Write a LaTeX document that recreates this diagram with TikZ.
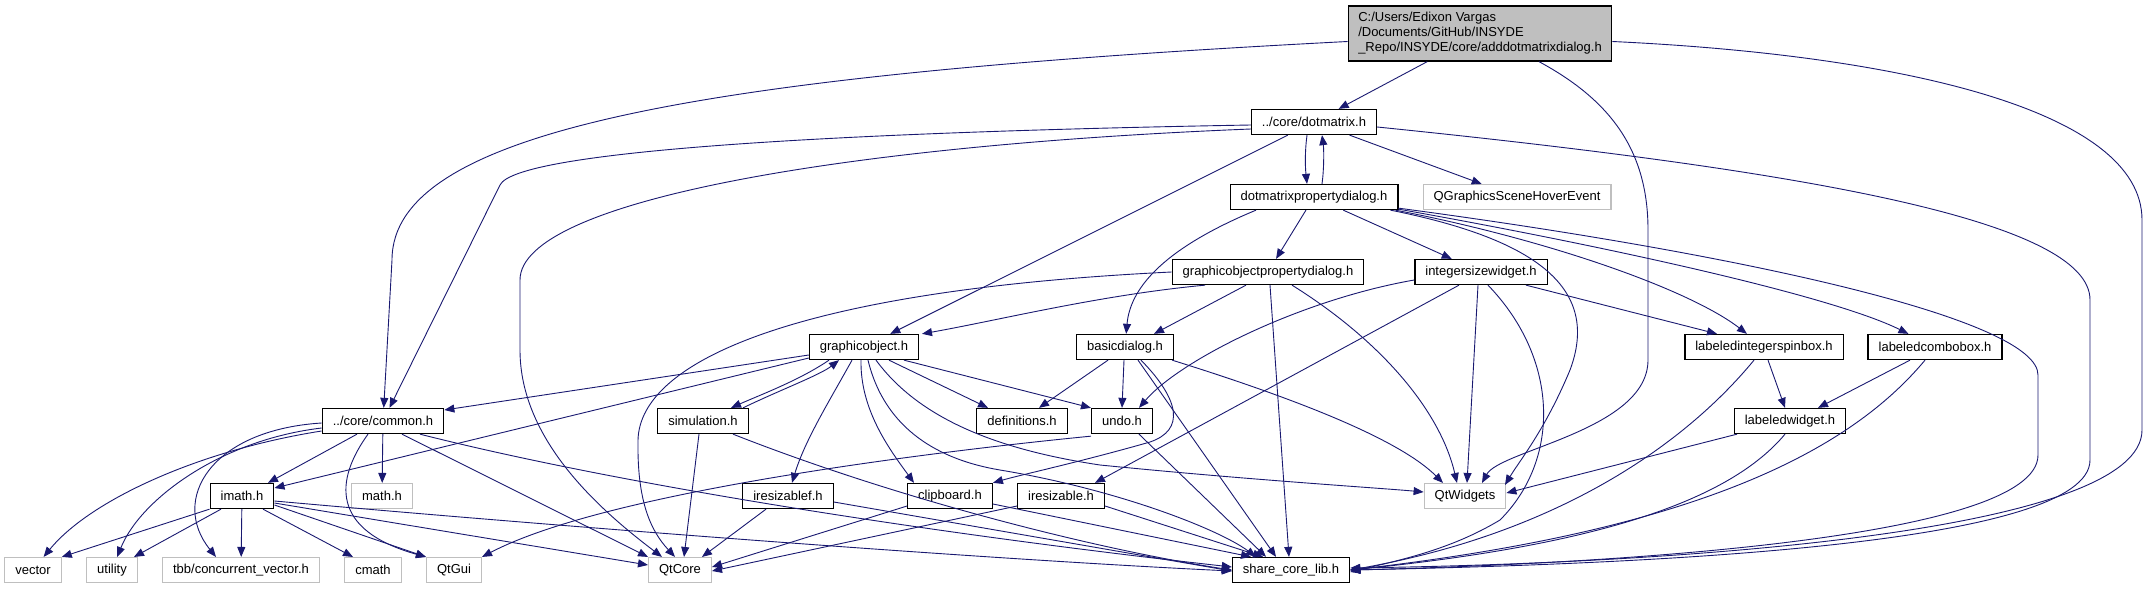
\documentclass[tikz,border=0pt]{standalone}
\usepackage{fontspec}
\setmainfont{Liberation Sans}
\usetikzlibrary{arrows.meta}
\definecolor{edgecol}{RGB}{25,25,112}
\definecolor{extgray}{RGB}{191,191,191}
\definecolor{rootfill}{RGB}{191,191,191}
\begin{document}
\begin{tikzpicture}[x=1pt,y=-1pt,
  every node/.style={font=\fontsize{13pt}{15pt}\selectfont, inner xsep=10.5pt, inner ysep=0pt, minimum height=25pt, anchor=center},
  docnode/.style={draw=black, line width=1.3pt, fill=white},
  extnode/.style={draw=extgray, line width=1.1pt, fill=white},
  rootnode/.style={draw=black, line width=1.3pt, fill=rootfill, align=left, minimum height=55pt, inner xsep=10pt},
  dep/.style={draw=edgecol, line width=0.9pt, -{Triangle[length=10pt,width=8pt]}}]
\useasboundingbox (0,0) rectangle (2147,589);
% nodes
\node[rootnode] (root) at (1480,33.5) {C:/Users/Edixon Vargas\\/Documents/GitHub/INSYDE\\\_Repo/INSYDE/core/adddotmatrixdialog.h};
\node[docnode] (dotmatrix) at (1314,122) {../core/dotmatrix.h};
\node[docnode] (dmpd) at (1314,197) {dotmatrixpropertydialog.h};
\node[extnode] (qgshe) at (1517,197) {QGraphicsSceneHoverEvent};
\node[docnode] (gopd) at (1268,272) {graphicobjectpropertydialog.h};
\node[docnode] (isw) at (1481,272) {integersizewidget.h};
\node[docnode] (go) at (864,347) {graphicobject.h};
\node[docnode] (bd) at (1125,347) {basicdialog.h};
\node[docnode] (lisb) at (1764,347) {labeledintegerspinbox.h};
\node[docnode] (lcb) at (1935,347) {labeledcombobox.h};
\node[docnode] (common) at (383,421) {../core/common.h};
\node[docnode] (sim) at (703,421) {simulation.h};
\node[docnode] (defs) at (1022,421) {definitions.h};
\node[docnode] (undo) at (1122,421) {undo.h};
\node[docnode] (lw) at (1790,421) {labeledwidget.h};
\node[docnode] (imath) at (242,496) {imath.h};
\node[extnode] (math) at (382,496) {math.h};
\node[docnode] (iresf) at (788,496) {iresizablef.h};
\node[docnode] (clip) at (950,496) {clipboard.h};
\node[docnode] (ires) at (1061,496) {iresizable.h};
\node[extnode] (qtw) at (1465,496) {QtWidgets};
\node[extnode] (vector) at (33,570) {vector};
\node[extnode] (utility) at (112,570) {utility};
\node[extnode] (tbb) at (241,570) {tbb/concurrent\_vector.h};
\node[extnode] (cmath) at (373,570) {cmath};
\node[extnode] (qtgui) at (454,570) {QtGui};
\node[extnode] (qtcore) at (680,570) {QtCore};
\node[docnode] (scl) at (1291,570) {share\_core\_lib.h};
% edges from root
\draw[dep] (root) -- (dotmatrix);
\draw[dep] ([yshift=-8pt]root.west) .. controls (700,75) and (392,130) .. (392,260) -- (common);
\draw[dep] ([xshift=59pt]root.south) .. controls (1610,100) and (1648,150) .. (1648,230) -- (1648,360) .. controls (1648,430) and (1500,450) .. ([xshift=17pt]qtw.north);
\draw[dep] ([yshift=-8pt]root.east) .. controls (1900,55) and (2142,110) .. (2142,220) -- (2142,430) .. controls (2142,530) and (1700,563) .. ([yshift=2pt]scl.east);
% dotmatrix
\draw[dep] ([xshift=-7pt]dotmatrix.south) .. controls (1305,150) and (1305,165) .. ([xshift=-7pt]dmpd.north);
\draw[dep] ([xshift=8pt]dmpd.north) .. controls (1324,170) and (1324,150) .. ([xshift=8pt]dotmatrix.south);
\draw[dep] (dotmatrix) -- (qgshe);
\draw[dep] (dotmatrix) -- (go);
\draw[dep] ([yshift=-3pt]dotmatrix.west) .. controls (850,132) and (517,150) .. (500,185) -- (common);
\draw[dep] ([yshift=-7pt]dotmatrix.west) .. controls (850,145) and (520,200) .. (520,280) -- (520,350) .. controls (520,440) and (600,510) .. ([xshift=-18pt]qtcore.north);
\draw[dep] ([yshift=-5pt]dotmatrix.east) .. controls (1800,170) and (2090,220) .. (2090,300) -- (2090,460) .. controls (2090,545) and (1650,564) .. (scl.east);
% dotmatrixpropertydialog
\draw[dep] ([xshift=-58pt]dmpd.south) .. controls (1160,250) and (1130,290) .. (bd);
\draw[dep] (dmpd) -- (gopd);
\draw[dep] (dmpd) -- (isw);
\draw[dep] ([xshift=-3pt]dmpd.south east) .. controls (1550,240) and (1690,290) .. (lisb);
\draw[dep] ([yshift=1pt]dmpd.south east) .. controls (1600,245) and (1830,295) .. (lcb);
\draw[dep] ([yshift=2pt]dmpd.south east) .. controls (1750,255) and (2038,320) .. (2038,375) -- (2038,455) .. controls (2038,540) and (1600,564) .. (scl.east);
\draw[dep] ([xshift=-8pt]dmpd.south east) .. controls (1540,240) and (1600,290) .. (1570,370) .. controls (1545,430) and (1520,460) .. ([xshift=40pt,yshift=-2pt]qtw.north);
% graphicobjectpropertydialog
\draw[dep] ([xshift=-63pt]gopd.south) .. controls (1100,295) and (1000,320) .. ([xshift=58pt]go.north);
\draw[dep] (gopd.west) .. controls (800,290) and (640,360) .. (638,440) .. controls (637,500) and (650,530) .. ([xshift=-5pt]qtcore.north);
\draw[dep] ([xshift=-22pt]gopd.south) -- ([xshift=29pt]bd.north);
\draw[dep] ([xshift=2pt]gopd.south) -- ([xshift=-2pt]scl.north);
\draw[dep] ([xshift=24pt]gopd.south) .. controls (1380,340) and (1440,410) .. ([xshift=-8pt]qtw.north);
% integersizewidget
\draw[dep] ([yshift=-8pt]isw.west) .. controls (1300,300) and (1180,360) .. ([xshift=17pt]undo.north);
\draw[dep] ([xshift=-22pt]isw.south) -- ([xshift=34pt]ires.north);
\draw[dep] ([xshift=-3pt]isw.south) -- ([xshift=2pt]qtw.north);
\draw[dep] ([xshift=7pt]isw.south) .. controls (1560,360) and (1560,460) .. (1500,520) .. controls (1450,550) and (1400,560) .. ([yshift=-2pt]scl.east);
\draw[dep] ([xshift=45pt]isw.south) -- ([xshift=-47pt]lisb.north);
% graphicobject
\draw[dep] ([yshift=-8pt]go.west) -- ([yshift=11pt]common.east);
\draw[dep] ([yshift=-11pt]go.west) -- ([yshift=8pt]imath.east);
\draw[dep] ([xshift=-35pt]go.south) .. controls (800,380) and (760,395) .. ([xshift=28pt]sim.north);
\draw[dep] ([xshift=40pt]sim.north) .. controls (780,390) and (820,375) .. ([xshift=-25pt]go.south);
\draw[dep] ([xshift=-12pt]go.south) .. controls (830,400) and (805,440) .. ([xshift=4pt]iresf.north);
\draw[dep] ([xshift=-3pt]go.south) .. controls (860,410) and (890,450) .. ([xshift=-36pt]clip.north);
\draw[dep] ([xshift=4pt]go.south) .. controls (885,430) and (940,460) .. (1000,470) .. controls (1120,490) and (1220,530) .. ([xshift=-35pt]scl.north);
\draw[dep] ([xshift=12pt]go.south) .. controls (920,420) and (1000,450) .. (1100,465) .. controls (1250,480) and (1380,488) .. ([yshift=4pt]qtw.west);
\draw[dep] ([xshift=25pt]go.south) -- ([xshift=-34pt]defs.north);
\draw[dep] ([xshift=40pt]go.south) -- (undo.north west);
% basicdialog
\draw[dep] ([xshift=-17pt]bd.south) -- ([xshift=17pt]defs.north);
\draw[dep] ([xshift=-1pt]bd.south) -- (undo.north);
\draw[dep] ([xshift=13pt]bd.south) -- ([xshift=-15pt]scl.north);
\draw[dep] ([xshift=16pt]bd.south) .. controls (1180,400) and (1185,430) .. (1150,442) .. controls (1080,462) and (1020,475) .. (clip.north east);
\draw[dep] ([xshift=-2pt]bd.south east) .. controls (1300,400) and (1400,440) .. ([xshift=-22pt]qtw.north);
% undo
\draw[dep] ([yshift=-2pt]undo.south west) .. controls (900,455) and (600,495) .. (qtgui.north east);
\draw[dep] ([xshift=17pt]undo.south) -- ([xshift=-25pt]scl.north);
% common
\draw[dep] ([xshift=-26pt]common.south) -- ([xshift=26pt]imath.north);
\draw[dep] (common) -- (math);
\draw[dep] ([yshift=-10pt]common.west) .. controls (200,450) and (90,500) .. (vector);
\draw[dep] ([yshift=-7pt]common.west) .. controls (220,440) and (140,500) .. (utility);
\draw[dep] ([yshift=-2pt]common.west) .. controls (210,430) and (170,500) .. ([xshift=-25pt]tbb.north);
\draw[dep] ([xshift=-15pt]common.south) .. controls (335,480) and (330,530) .. (qtgui.north west);
\draw[dep] ([xshift=19pt]common.south) -- (qtcore.north west);
\draw[dep] ([xshift=37pt]common.south) .. controls (600,480) and (900,530) .. ([yshift=3pt]scl.west);
% imath
\draw[dep] (imath.south west) -- (vector.north east);
\draw[dep] ([xshift=-21pt]imath.south) -- ([xshift=22pt]utility.north);
\draw[dep] (imath) -- (tbb);
\draw[dep] ([xshift=21pt]imath.south) -- ([xshift=-20pt]cmath.north);
\draw[dep] ([yshift=-9pt]imath.east) -- (qtgui.north west);
\draw[dep] ([yshift=-7pt]imath.east) -- ([yshift=5pt]qtcore.west);
\draw[dep] ([yshift=-5pt]imath.east) .. controls (600,530) and (1000,560) .. ([yshift=-1pt]scl.west);
% simulation
\draw[dep] ([xshift=-4pt]sim.south) -- ([xshift=4pt]qtcore.north);
\draw[dep] ([xshift=30pt]sim.south) .. controls (900,500) and (1100,550) .. (scl.west);
% iresizablef, clipboard, iresizable
\draw[dep] ([xshift=-22pt]iresf.south) -- ([xshift=22pt]qtcore.north);
\draw[dep] ([yshift=-6pt]iresf.east) -- ([yshift=-1pt]scl.west);
\draw[dep] ([yshift=-10pt]clip.west) -- ([yshift=3pt]qtcore.east);
\draw[dep] ([yshift=-8pt]clip.east) -- ([xshift=-40pt]scl.north);
\draw[dep] ([yshift=-10pt]ires.west) -- ([yshift=-1pt]qtcore.east);
\draw[dep] ([yshift=-10pt]ires.east) -- ([xshift=-28pt]scl.north);
% labeled*
\draw[dep] ([xshift=4pt]lisb.south) -- ([xshift=-5pt]lw.north);
\draw[dep] ([xshift=-10pt]lisb.south) .. controls (1680,450) and (1550,535) .. (scl.east);
\draw[dep] ([xshift=-25pt]lcb.south) -- ([xshift=28pt]lw.north);
\draw[dep] ([xshift=-10pt]lcb.south) .. controls (1850,450) and (1700,530) .. (scl.east);
\draw[dep] ([xshift=-53pt]lw.south) -- ([yshift=3pt]qtw.east);
\draw[dep] ([xshift=-5pt]lw.south) .. controls (1730,500) and (1600,545) .. (scl.east);
\end{tikzpicture}
\end{document}
